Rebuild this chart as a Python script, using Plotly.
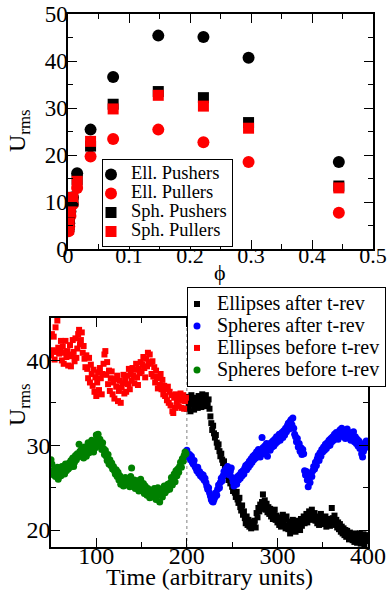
import plotly.graph_objects as go

# ---------------- top panel data ----------------
phi = [0.001, 0.002, 0.004, 0.008, 0.015, 0.037, 0.074, 0.148, 0.222, 0.296, 0.444]
ell_pushers = [4.2, 5.5, 8.0, 11.0, 16.1, 25.4, 36.6, 45.4, 45.1, 40.7, 18.5]
ell_pullers = [3.8, 4.8, 7.0, 9.5, 13.0, 19.7, 23.4, 25.4, 22.7, 18.5, 7.7]
sph_pushers = [4.5, 5.8, 8.0, 10.2, 14.8, 21.9, 30.8, 33.5, 32.2, 26.9, 13.4]
sph_pullers = [4.2, 5.5, 7.9, 11.0, 14.4, 22.9, 29.8, 32.7, 30.4, 25.7, 13.0]

# ---------------- bottom panel data ----------------
t_rev = 200
t_before = list(range(50, 200))
t_after = list(range(200, 400))

ell_before = [
    40.6, 43.1, 41.2, 42.8, 40.1, 43.9, 41.0, 44.7, 41.5, 40.8,
    41.3, 42.3, 40.0, 41.6, 39.6, 40.9, 42.3, 40.4, 41.1, 39.4,
    40.7, 41.8, 39.3, 40.5, 42.4, 41.0, 39.9, 42.6, 40.3, 41.4,
    43.1, 43.6, 41.9, 42.4, 43.3, 40.9, 41.7, 40.2, 39.2, 40.6,
    39.0, 37.9, 40.3, 37.4, 39.5, 38.4, 37.0, 38.9, 36.3, 38.0,
    35.8, 37.4, 38.6, 36.5, 39.1, 37.9, 36.0, 38.4, 39.6, 40.7,
    41.1, 38.3, 39.8, 37.2, 38.8, 36.4, 37.9, 38.7, 36.0, 37.4,
    35.5, 37.8, 36.9, 38.2, 35.2, 36.4, 37.6, 35.0, 36.8, 37.3,
    38.3, 36.1, 37.7, 36.3, 38.2, 37.2, 39.0, 36.6, 38.4, 37.6,
    39.1, 38.2, 37.3, 38.9, 39.6, 38.0, 37.1, 39.0, 38.5, 39.8,
    38.7, 39.5, 40.4, 39.1, 38.0, 40.2, 39.3, 40.9, 39.6, 40.7,
    39.8, 38.4, 39.9, 38.1, 39.2, 37.4, 38.8, 37.9, 36.7, 38.1,
    37.1, 38.4, 36.6, 37.7, 36.0, 37.0, 35.8, 36.6, 35.3, 36.9,
    35.0, 36.3, 34.7, 35.9, 34.0, 33.8, 35.6, 34.4, 36.0, 35.1,
    35.7, 34.6, 35.4, 36.1, 34.4, 35.3, 35.9, 34.3, 35.2, 35.6,
]
sph_before = [
    28.3, 27.8, 27.0, 26.5, 27.2, 26.3, 26.8, 27.4, 26.0, 26.7,
    27.1, 26.4, 27.5, 26.9, 27.3, 26.6, 27.8, 27.0, 27.6, 27.2,
    27.9, 27.4, 28.2, 27.7, 28.5, 27.5, 28.0, 28.8, 28.3, 29.0,
    28.6, 30.1, 29.3, 28.8, 29.6, 29.0, 28.5, 29.8, 29.2, 28.7,
    29.5, 30.3, 29.1, 30.0, 29.4, 30.6, 29.8, 29.2, 30.4, 29.7,
    31.2, 30.5, 31.3, 29.9, 30.7, 30.1, 29.5, 30.3, 29.6, 28.9,
    29.4, 28.7, 28.2, 28.9, 27.8, 28.3, 27.6, 27.9, 27.2, 27.5,
    27.0, 26.6, 27.1, 26.3, 26.8, 25.9, 26.4, 25.4, 26.0, 25.6,
    25.2, 25.8, 26.2, 25.5, 26.0, 25.3, 25.9, 25.1, 26.3, 27.3,
    25.7, 25.2, 25.9, 24.9, 25.5, 25.0, 25.8, 24.6, 25.3, 26.0,
    25.1, 24.7, 25.5, 24.3, 25.2, 24.8, 24.1, 24.9, 24.4, 23.8,
    24.5, 23.9, 24.6, 24.2, 24.9, 24.0, 23.6, 24.4, 25.0, 24.3,
    23.3, 24.1, 24.8, 23.9, 24.6, 25.2, 24.4, 25.0, 24.7, 25.4,
    25.1, 24.8, 25.6, 26.2, 25.3, 25.9, 26.6, 25.7, 27.0, 26.4,
    27.2, 26.8, 27.5, 28.0, 27.4, 28.4, 28.1, 28.8, 29.2, 29.0,
]
ell_after = [
    34.3, 35.7, 34.6, 35.2, 34.0, 35.9, 34.8, 35.4, 34.2, 35.6,
    34.7, 35.1, 34.4, 35.8, 34.9, 35.3, 34.5, 36.0, 35.0, 35.5,
    34.6, 35.9, 35.2, 34.8, 35.4, 34.3, 33.4, 32.6, 31.8, 32.3,
    31.4, 30.9, 31.2, 30.3, 29.8, 30.1, 29.3, 28.7, 29.0, 28.3,
    27.9, 28.1, 27.3, 26.8, 27.4, 26.4, 25.9, 26.6, 25.5, 25.8,
    25.1, 24.6, 25.3, 24.4, 23.9, 24.5, 23.6, 23.2, 23.8, 22.7,
    22.3, 22.9, 21.8, 22.2, 21.4, 20.8, 21.6, 20.6, 21.2, 20.4,
    20.9, 20.2, 21.0, 20.5, 20.7, 21.1, 20.3, 22.0, 21.5, 22.6,
    22.2, 23.0, 22.5, 23.3, 24.2, 22.8, 23.5, 22.4, 23.1, 22.1,
    22.7, 21.9, 22.5, 21.6, 22.2, 21.3, 21.8, 22.4, 21.2, 21.7,
    20.9, 21.5, 20.6, 21.2, 20.4, 21.0, 21.8, 20.7, 21.3, 20.2,
    21.6, 20.5, 20.1, 21.0, 19.6, 20.8, 20.3, 21.2, 20.0, 20.6,
    19.8, 20.4, 21.1, 20.2, 20.7, 20.0, 21.3, 20.5, 21.0, 21.6,
    20.8, 21.4, 21.9, 20.9, 21.5, 22.2, 21.2, 21.7, 22.4, 21.3,
    21.8, 22.0, 21.1, 21.6, 20.8, 21.4, 20.6, 21.2, 21.9, 20.9,
    21.5, 20.7, 21.0, 21.6, 20.4, 21.3, 20.8, 21.1, 20.5, 21.0,
    22.6, 21.4, 20.9, 21.7, 20.6, 21.2, 20.3, 20.9, 20.1, 20.7,
    19.8, 20.4, 19.6, 20.2, 19.4, 20.0, 19.2, 19.9, 19.5, 18.9,
    19.7, 19.1, 19.5, 18.8, 19.3, 18.6, 19.6, 19.0, 18.5, 19.4,
    18.9, 19.6, 18.4, 19.2, 18.8, 19.5, 18.3, 19.0, 19.4, 18.7,
]
sph_after = [
    29.4, 29.0, 28.6, 28.9, 28.3, 28.7, 28.0, 27.8, 28.2, 27.5,
    27.3, 27.0, 27.4, 26.7, 26.9, 26.4, 26.6, 26.2, 26.5, 25.9,
    26.1, 25.6, 25.2, 24.8, 25.0, 24.4, 24.0, 23.6, 23.4, 23.3,
    23.6, 23.9, 24.4, 24.1, 24.8, 25.3, 25.0, 25.6, 26.1, 25.8,
    26.4, 26.9, 26.6, 27.2, 26.8, 27.5, 27.1, 26.5, 26.9, 27.3,
    26.2, 25.7, 25.2, 25.6, 26.0, 25.4, 26.3, 25.9, 26.5, 26.1,
    26.8, 26.4, 27.0, 26.6, 27.3, 27.6, 27.1, 27.8, 27.4, 28.1,
    27.7, 28.4, 28.0, 28.7, 28.3, 28.9, 28.5, 29.2, 28.8, 29.5,
    29.1, 28.6, 29.4, 30.9, 29.7, 29.0, 29.9, 29.3, 30.2, 28.7,
    29.6, 30.0, 29.4, 30.3, 29.8, 30.5, 29.9, 30.7, 30.2, 31.0,
    30.4, 30.8, 31.3, 30.6, 31.1, 31.5, 30.9, 31.7, 31.2, 32.0,
    31.6, 32.3, 32.6, 31.9, 32.8, 33.0, 32.4, 33.2, 32.0, 31.3,
    31.0, 30.4, 30.8, 29.8, 30.2, 29.3, 29.7, 28.9, 29.5, 29.0,
    27.0, 26.5, 26.9, 25.9, 25.1, 26.2, 25.6, 26.7, 26.3, 27.0,
    27.5, 27.2, 28.0, 27.6, 28.4, 28.8, 28.2, 29.1, 28.7, 29.5,
    29.2, 29.8, 29.4, 30.1, 29.6, 30.3, 29.9, 30.6, 30.0, 30.8,
    30.4, 31.0, 30.6, 31.3, 30.9, 31.5, 31.1, 30.7, 31.4, 31.8,
    31.2, 32.0, 31.6, 31.0, 31.7, 30.8, 31.4, 31.9, 30.9, 31.5,
    31.1, 30.6, 31.3, 30.8, 31.6, 30.4, 31.0, 30.2, 30.7, 29.9,
    30.5, 29.6, 30.2, 29.0, 28.6, 29.3, 30.1, 29.7, 30.5, 30.0,
]

FONT = '"Liberation Serif", Tinos, "Times New Roman", "DejaVu Serif", serif'
W, H = 391, 590


def big(txt, px):
    return '<span style="font-size:%spx">%s</span>' % (px, txt)


fig = go.Figure()

# top panel
top = [
    ("Ell. Pushers", ell_pushers, "circle", "black", 12),
    ("Ell. Pullers", ell_pullers, "circle", "red", 12),
    ("Sph. Pushers", sph_pushers, "square", "black", 11),
    ("Sph. Pullers", sph_pullers, "square", "red", 11),
]
for name, vals, sym, col, sz in top:
    fig.add_trace(go.Scatter(
        x=phi, y=vals, mode="markers", name=big(name, 18.5),
        marker=dict(symbol=sym, color=col, size=sz, line=dict(width=0)),
        xaxis="x", yaxis="y", legend="legend",
    ))

# bottom panel
bottom = [
    ("Ellipses after t-rev", t_after, ell_after, "square", "black", 6),
    ("Spheres after t-rev", t_after, sph_after, "circle", "blue", 7),
    ("Ellipses before t-rev", t_before, ell_before, "square", "red", 6),
    ("Spheres before t-rev", t_before, sph_before, "circle", "green", 7),
]
for name, tx, vals, sym, col, sz in bottom:
    fig.add_trace(go.Scatter(
        x=tx, y=vals, mode="markers", name=big(name, 20),
        marker=dict(symbol=sym, color=col, size=sz, line=dict(width=0)),
        xaxis="x2", yaxis="y2", legend="legend2",
    ))

axis_common = dict(
    showline=True, linecolor="black", linewidth=1.5, mirror="ticks",
    ticks="inside", ticklen=9, tickwidth=1.2, tickcolor="black",
    showgrid=False, zeroline=False,
)

fig.update_layout(
    width=W, height=H,
    margin=dict(l=0, r=0, t=0, b=0, autoexpand=False),
    paper_bgcolor="white", plot_bgcolor="white",
    font=dict(family=FONT, color="black"),
    xaxis=dict(domain=[68 / W, 373 / W], range=[0, 0.5], dtick=0.1,
               anchor="y", ticklabelstandoff=-14,
               tickfont=dict(family=FONT, size=22, color="black"),
               minor=dict(dtick=0.05, ticks="inside", ticklen=5, tickcolor="black"),
               **axis_common),
    yaxis=dict(domain=[1 - 249 / H, 1 - 14 / H], range=[0, 50], dtick=10,
               anchor="x", ticklabelstandoff=-6,
               tickfont=dict(family=FONT, size=23, color="black"),
               minor=dict(dtick=5, ticks="inside", ticklen=5, tickcolor="black"),
               **axis_common),
    xaxis2=dict(domain=[51 / W, 368 / W], range=[50, 400], dtick=100,
                anchor="y2", ticklabelstandoff=-14,
                tickfont=dict(family=FONT, size=24, color="black"),
                minor=dict(dtick=50, ticks="inside", ticklen=5, tickcolor="black"),
                **axis_common),
    yaxis2=dict(domain=[1 - 547 / H, 1 - 318 / H], range=[18, 45], dtick=10,
                anchor="x2", ticklabelstandoff=-6,
                tickfont=dict(family=FONT, size=24, color="black"),
                minor=dict(dtick=5, ticks="inside", ticklen=5, tickcolor="black"),
                **axis_common),
    legend=dict(x=102 / W, y=1 - 159 / H, xanchor="left", yanchor="top",
                bgcolor="white", bordercolor="black", borderwidth=1,
                font=dict(family=FONT, size=11, color="black"),
                itemwidth=30, tracegroupgap=0, indentation=-12),
    legend2=dict(x=187 / W, y=1 - 287 / H, xanchor="left", yanchor="top",
                 bgcolor="white", bordercolor="black", borderwidth=1,
                 font=dict(family=FONT, size=14.6, color="black"),
                 itemwidth=30, tracegroupgap=0, indentation=-11),
    showlegend=True,
)

# time-reversal marker line
fig.add_shape(type="line", xref="x2", yref="y2 domain", x0=t_rev, x1=t_rev,
              y0=0, y1=1, line=dict(color="gray", width=1, dash="dot"), layer="below")

# axis titles
ann_font = dict(family=FONT, size=24, color="black")
fig.add_annotation(text="U<sub>rms</sub>", xref="paper", yref="paper",
                   x=19 / W, y=1 - 131 / H, textangle=-90, showarrow=False,
                   xanchor="center", yanchor="middle", font=ann_font)
fig.add_annotation(text="ϕ", xref="paper", yref="paper",
                   x=220 / W, y=1 - 273 / H, showarrow=False,
                   xanchor="center", yanchor="middle",
                   font=dict(family=FONT, size=22, color="black"))
fig.add_annotation(text="U<sub>rms</sub>", xref="paper", yref="paper",
                   x=19 / W, y=1 - 405 / H, textangle=-90, showarrow=False,
                   xanchor="center", yanchor="middle", font=ann_font)
fig.add_annotation(text="Time (arbitrary units)", xref="paper", yref="paper",
                   x=209.5 / W, y=1 - 577 / H, showarrow=False,
                   xanchor="center", yanchor="middle",
                   font=dict(family=FONT, size=24, color="black"))

fig.write_html("out.html")
